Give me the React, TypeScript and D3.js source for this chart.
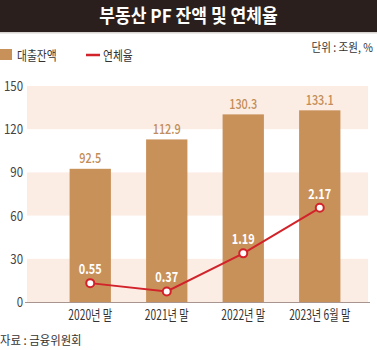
import React from "react";
import * as d3 from "d3";

const categories = ["2020년 말", "2021년 말", "2022년 말", "2023년 6월 말"];
const loanBalance = [92.5, 112.9, 130.3, 133.1];
const delinquencyRate = [0.55, 0.37, 1.19, 2.17];
const yTicks = [0, 30, 60, 90, 120, 150];

const W = 377;
const H = 350;
const FONT = "'Noto Sans CJK KR', 'Noto Sans', sans-serif";
const BAR = "#c9915a";
const BAR_LABEL = "#c28d58";
const RED = "#d2222a";
const BAND = "#fcede4";

type CTProps = {
  x: number;
  y: number;
  sx?: number;
  size: number;
  anchor?: "start" | "middle" | "end";
  fill: string;
  weight?: number | string;
  children: React.ReactNode;
};

function CText({ x, y, sx = 1, size, anchor = "start", fill, weight = 400, children }: CTProps) {
  return (
    <text
      transform={`translate(${x},${y}) scale(${sx},1)`}
      fontSize={size}
      textAnchor={anchor}
      fill={fill}
      fontWeight={weight}
      fontFamily={FONT}
    >
      {children}
    </text>
  );
}

export default function App() {
  const y = d3.scaleLinear().domain([0, 150]).range([302, 86]);
  const y2 = d3.scaleLinear().domain([0, 4.8]).range([308.7, 85.5]);
  const x = d3
    .scaleBand<string>()
    .domain(categories)
    .range([52, 358])
    .paddingInner(0.46)
    .paddingOuter(0.23);
  const cx = (c: string) => (x(c) as number) + x.bandwidth() / 2;

  const line = d3
    .line<number>()
    .x((_, i) => cx(categories[i]))
    .y((d) => y2(d));

  const plotLeft = 27;
  const plotRight = 368;

  // peach bands at 0-30, 60-90, 120-150
  const peach: [number, number][] = [];
  for (let i = 0; i < yTicks.length - 1; i += 2) peach.push([yTicks[i], yTicks[i + 1]]);

  return (
    <svg
      width={W}
      height={H}
      style={{ position: "absolute", left: 0, top: 0, background: "#fff" }}
    >
      {/* title bar */}
      <rect x={0} y={0} width={W} height={32} fill="#2a1f1c" />
      <rect x={0} y={32} width={W} height={1.5} fill="#d8d4d2" />
      <CText x={W / 2} y={23} sx={0.9} size={19} anchor="middle" fill="#fff" weight={700}>
        부동산 PF 잔액 및 연체율
      </CText>

      {/* legend */}
      <rect x={0} y={49} width={12} height={11} fill={BAR} />
      <CText x={17} y={59.5} sx={0.83} size={13} fill="#333">
        대출잔액
      </CText>
      <line x1={86} x2={100} y1={55} y2={55} stroke={RED} strokeWidth={2.5} />
      <CText x={103} y={59.5} sx={0.83} size={13} fill="#333">
        연체율
      </CText>
      <CText x={373} y={52} sx={0.88} size={12} anchor="end" fill="#333">
        단위 : 조원, %
      </CText>

      {/* bands */}
      {peach.map(([a, b], i) => (
        <rect
          key={i}
          x={plotLeft}
          y={y(b)}
          width={plotRight - plotLeft}
          height={y(a) - y(b)}
          fill={BAND}
        />
      ))}

      {/* y ticks */}
      {yTicks.map((t) => (
        <CText key={t} x={23} y={y(t) + 5} sx={0.85} size={13.5} anchor="end" fill="#444">
          {t}
        </CText>
      ))}

      {/* bars */}
      {categories.map((c, i) => (
        <g key={c}>
          <rect
            x={x(c)}
            y={y(loanBalance[i])}
            width={x.bandwidth()}
            height={y(0) - y(loanBalance[i])}
            fill={BAR}
          />
          <CText
            x={cx(c)}
            y={y(loanBalance[i]) - 5.5}
            sx={0.78}
            size={14}
            anchor="middle"
            fill={BAR_LABEL}
            weight={500}
          >
            {loanBalance[i].toFixed(1)}
          </CText>
          <CText x={cx(c)} y={320} sx={0.73} size={14} anchor="middle" fill="#333">
            {c}
          </CText>
        </g>
      ))}

      {/* axis line */}
      <line x1={25} x2={370} y1={302.5} y2={302.5} stroke="#a89590" strokeWidth={1.2} />

      {/* line series */}
      <path d={line(delinquencyRate) || ""} fill="none" stroke={RED} strokeWidth={2} />
      {delinquencyRate.map((v, i) => (
        <g key={i}>
          <circle cx={cx(categories[i])} cy={y2(v)} r={4} fill="#fff" stroke={RED} strokeWidth={2} />
          <CText
            x={cx(categories[i])}
            y={y2(v) - 9}
            sx={0.78}
            size={14}
            anchor="middle"
            fill="#fff"
            weight={700}
          >
            {v.toFixed(2)}
          </CText>
        </g>
      ))}

      {/* source */}
      <CText x={0} y={345} sx={0.95} size={12} fill="#333">
        자료 : 금융위원회
      </CText>
    </svg>
  );
}
